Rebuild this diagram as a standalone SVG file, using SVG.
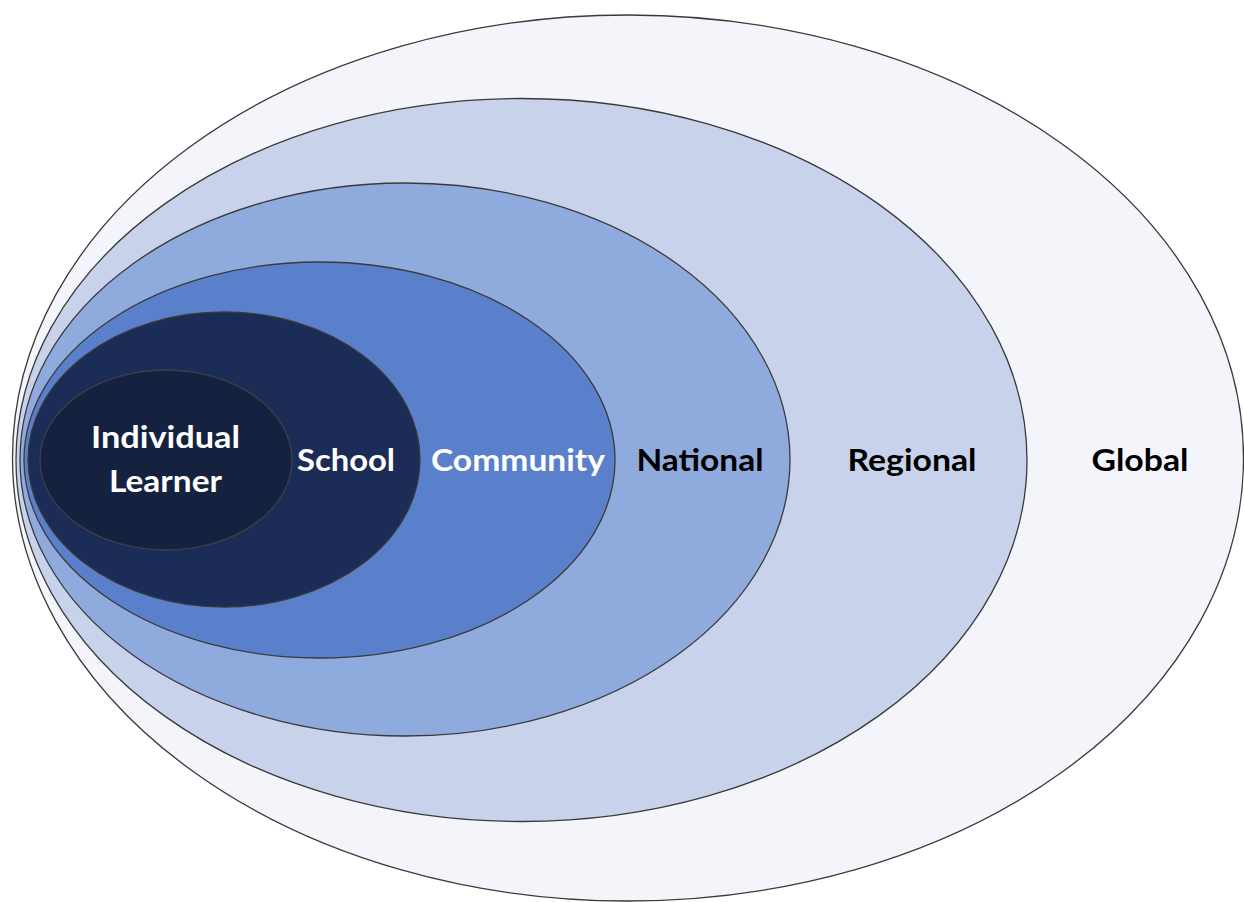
<svg xmlns="http://www.w3.org/2000/svg" width="1244" height="902" viewBox="0 0 1244 902">
<style>
.ring{stroke:#3a3a3a;stroke-width:1.3}
.lbl{font-family:Lato,"Liberation Sans",sans-serif;font-weight:bold;font-size:30px;text-anchor:middle}
.w{fill:#ffffff}
.k{fill:#000000}
</style>
<rect width="1244" height="902" fill="#ffffff"/>
<g id="global">
<ellipse class="ring" cx="628" cy="458" rx="615.5" ry="443" fill="#F4F5FA"/>
<text class="lbl k" x="1140" y="471" textLength="97" lengthAdjust="spacingAndGlyphs">Global</text>
</g>
<g id="regional">
<ellipse class="ring" cx="521.5" cy="460" rx="505.5" ry="361.5" fill="#C8D3EB"/>
<text class="lbl k" x="912" y="471" textLength="129" lengthAdjust="spacingAndGlyphs">Regional</text>
</g>
<g id="national">
<ellipse class="ring" cx="405" cy="459.5" rx="385" ry="276.5" fill="#8FAADC"/>
<text class="lbl k" x="700" y="471" textLength="127" lengthAdjust="spacingAndGlyphs">National</text>
</g>
<g id="community">
<ellipse class="ring" cx="319.5" cy="460" rx="295.5" ry="198" fill="#5B80CB"/>
<text class="lbl w" x="518" y="471" textLength="174" lengthAdjust="spacingAndGlyphs">Community</text>
</g>
<g id="school">
<ellipse class="ring" cx="224" cy="459.5" rx="196" ry="147.5" fill="#1B2C56"/>
<text class="lbl w" x="346" y="471" textLength="98" lengthAdjust="spacingAndGlyphs">School</text>
</g>
<g id="individual">
<ellipse cx="166" cy="460" rx="126" ry="90" fill="#15223F" stroke="#3b3f48" stroke-width="1.3"/>
<text class="lbl w" x="165.5" y="448" textLength="149" lengthAdjust="spacingAndGlyphs">Individual</text>
<text class="lbl w" x="165.5" y="492" textLength="113" lengthAdjust="spacingAndGlyphs">Learner</text>
</g>
<g id="connectors"/>
</svg>
